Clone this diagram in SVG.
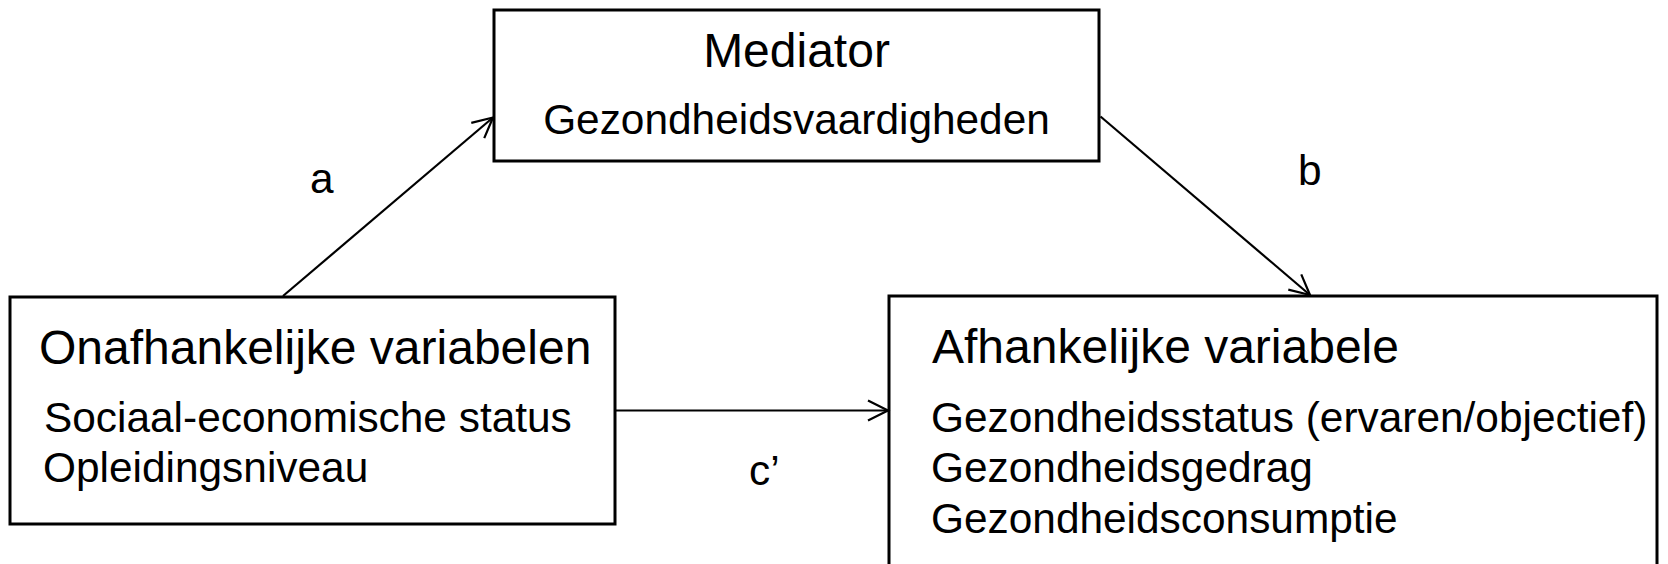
<svg xmlns="http://www.w3.org/2000/svg" width="1668" height="564" viewBox="0 0 1668 564">
  <style>
    .box { fill: #ffffff; stroke: #000000; stroke-width: 3; }
    .head { font-family: "Liberation Sans", Arial, sans-serif; font-size: 48px; fill: #000000; }
    .body { font-family: "Liberation Sans", Arial, sans-serif; font-size: 42.4px; fill: #000000; }
    .edge { fill: none; stroke: #000000; stroke-width: 2.2; }
  </style>
  <defs>
    <marker id="openArrow" markerUnits="userSpaceOnUse" markerWidth="30" markerHeight="30" viewBox="-25 -15 30 30" refX="0" refY="0" orient="auto">
      <path d="M -20 -10 L 0 0 L -20 10" fill="none" stroke="#000000" stroke-width="2.2"/>
    </marker>
  </defs>
  <rect width="1668" height="564" fill="#ffffff"/>

  <g id="mediator">
    <rect class="box" x="494" y="10" width="605" height="151"/>
    <text class="head" x="796.5" y="67" text-anchor="middle">Mediator</text>
    <text class="body" x="796.5" y="134" text-anchor="middle">Gezondheidsvaardigheden</text>
  </g>

  <g id="independent">
    <rect class="box" x="10" y="297" width="605" height="227"/>
    <text class="head" x="39" y="364">Onafhankelijke variabelen</text>
    <text class="body" x="44" y="432">Sociaal-economische status</text>
    <text class="body" x="43" y="482">Opleidingsniveau</text>
  </g>

  <g id="dependent">
    <rect class="box" x="889" y="296" width="768" height="290"/>
    <text class="head" x="932" y="363">Afhankelijke variabele</text>
    <text class="body" x="931" y="432">Gezondheidsstatus (ervaren/objectief)</text>
    <text class="body" x="931" y="482">Gezondheidsgedrag</text>
    <text class="body" x="931" y="533">Gezondheidsconsumptie</text>
  </g>

  <g id="connectors">
    <line class="edge" x1="283" y1="296" x2="493" y2="117.5" marker-end="url(#openArrow)"/>
    <line class="edge" x1="1100.5" y1="116.5" x2="1310" y2="295" marker-end="url(#openArrow)"/>
    <line class="edge" x1="616" y1="410.5" x2="888" y2="410.5" marker-end="url(#openArrow)"/>
    <text class="body" x="310" y="193">a</text>
    <text class="body" x="1298" y="185">b</text>
    <text class="body" x="749" y="485">c’</text>
  </g>
</svg>
